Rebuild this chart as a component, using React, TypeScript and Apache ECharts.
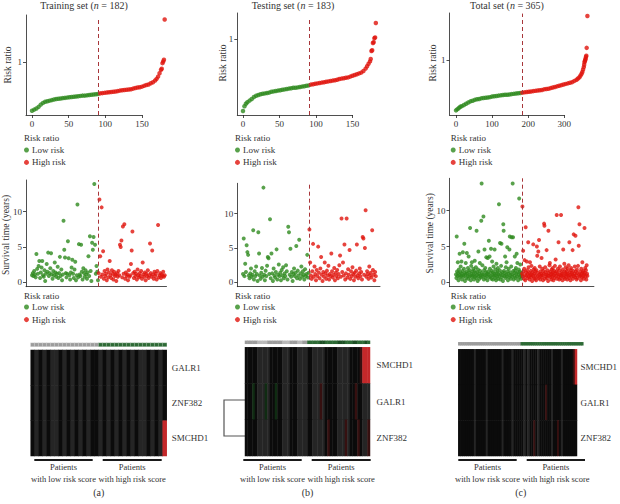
import React, { useEffect, useRef } from "react";
import * as echarts from "echarts";

type Pt = [number, number];

const FONT = "Liberation Serif";
const GREEN = "#2e8a1e";
const RED = "#e0140c";
const DASH = "#a8363a";
const TEXT = "#333333";

// ---------- data ----------
const panelTitles = ["Training set", "Testing set", "Total set"];
const panelSizes = [182, 183, 365];
const panelLetters = ["(a)", "(b)", "(c)"];
const riskGroups = ["Low risk", "High risk"];
const legendTitle = "Risk ratio";
const riskAxisTitle = "Risk ratio";
const survAxisTitle = "Survival time (years)";
const lowGroupText = ["Patients", "with low risk score"];
const highGroupText = ["Patients", "with high risk score"];

const trainXTicks = [0, 50, 100, 150];
const testXTicks = [0, 50, 100, 150];
const totalXTicks = [0, 100, 200, 300];
const riskYTicks = [1];
const survYTicks = [0, 5, 10];

// first index of the high-risk group
const trainCut = 91;
const testCut = 91;
const totalCut = 183;

// sorted risk ratio: [patient index, risk ratio]
const trainRisk: Pt[] = [[0,0.13],[3,0.15],[6,0.17],[9,0.2],[12,0.24],[15,0.27],[18,0.29],[21,0.3],[24,0.31],[27,0.32],[30,0.33],[33,0.34],[36,0.345],[39,0.35],[42,0.355],[45,0.36],[48,0.365],[51,0.37],[54,0.375],[57,0.38],[60,0.385],[63,0.39],[66,0.395],[69,0.4],[72,0.4],[75,0.405],[78,0.41],[81,0.415],[84,0.42],[87,0.425],[90,0.43],[93,0.44],[96,0.445],[99,0.45],[102,0.455],[105,0.46],[108,0.465],[111,0.47],[114,0.475],[117,0.48],[120,0.49],[123,0.495],[126,0.5],[129,0.505],[132,0.51],[135,0.515],[138,0.525],[141,0.535],[144,0.545],[147,0.55],[150,0.56],[153,0.575],[156,0.59],[159,0.6],[162,0.62],[165,0.64],[168,0.67],[170,0.7],[172,0.74],[174,0.8],[176,0.86],[177,0.88],[178,0.98],[179,1.01],[180,1.04],[181,1.76]];

const testRisk: Pt[] = [[0,0.1],[2,0.16],[4,0.19],[6,0.21],[9,0.23],[12,0.25],[15,0.275],[18,0.29],[21,0.3],[24,0.31],[27,0.315],[30,0.32],[33,0.325],[36,0.33],[39,0.34],[42,0.345],[45,0.35],[48,0.355],[51,0.36],[54,0.365],[57,0.37],[60,0.375],[63,0.38],[66,0.385],[69,0.39],[72,0.39],[75,0.395],[78,0.4],[81,0.405],[84,0.41],[87,0.415],[90,0.42],[93,0.43],[96,0.435],[99,0.44],[102,0.445],[105,0.45],[108,0.455],[111,0.46],[114,0.465],[117,0.47],[120,0.475],[123,0.48],[126,0.485],[129,0.49],[132,0.5],[135,0.505],[138,0.51],[141,0.515],[144,0.52],[147,0.53],[150,0.54],[153,0.55],[156,0.56],[159,0.57],[162,0.58],[165,0.6],[168,0.63],[170,0.66],[172,0.69],[174,0.72],[175,0.75],[176,0.85],[177,0.86],[178,0.95],[179,0.96],[180,1.01],[181,1.02],[182,1.2]];

const totalRisk: Pt[] = [[0,0.16],[4,0.18],[8,0.2],[12,0.22],[16,0.23],[22,0.25],[28,0.27],[34,0.29],[40,0.31],[46,0.32],[52,0.335],[58,0.345],[64,0.35],[70,0.36],[76,0.365],[82,0.37],[88,0.375],[94,0.38],[100,0.39],[106,0.395],[112,0.4],[118,0.405],[124,0.41],[130,0.415],[136,0.42],[142,0.42],[148,0.425],[154,0.43],[160,0.435],[166,0.44],[172,0.445],[178,0.45],[184,0.455],[190,0.46],[196,0.465],[202,0.47],[208,0.475],[214,0.48],[220,0.485],[226,0.49],[232,0.495],[238,0.5],[244,0.51],[250,0.515],[256,0.52],[262,0.53],[268,0.54],[274,0.55],[280,0.56],[286,0.57],[292,0.58],[298,0.59],[304,0.6],[310,0.61],[316,0.62],[322,0.63],[328,0.65],[334,0.67],[338,0.69],[342,0.71],[345,0.74],[348,0.77],[350,0.8],[352,0.84],[354,0.88],[355,0.92],[356,0.96],[357,0.98],[358,1.0],[359,1.02],[360,1.05],[361,1.07],[362,1.2],[364,1.73]];

// survival time (years) by patient index
const trainSurv = [
  1.0,1.3,0.9,1.6,1.1,0.7,4.0,1.9,1.2,2.3,
  3.0,0.6,1.4,2.1,3.0,1.0,0.8,1.7,0.2,1.2,
  2.6,1.5,4.2,0.9,1.3,2.0,4.1,1.1,0.5,1.6,
  1.0,2.8,1.4,0.8,1.2,2.2,0.6,1.3,3.6,0.9,
  1.8,0.3,1.1,8.7,4.6,3.5,1.3,0.7,1.2,5.8,
  3.4,1.0,0.4,1.4,2.1,3.2,1.2,0.6,1.8,2.9,
  0.3,1.0,11.0,0.7,5.4,1.1,0.9,5.3,1.5,0.4,
  2.0,1.3,0.8,1.7,1.1,0.5,1.4,3.7,0.9,6.5,
  1.6,0.2,5.6,4.6,6.4,13.9,5.3,1.2,2.3,1.5,
  0.3,
  1.3,11.7,3.7,0.8,10.6,1.1,4.4,0.5,1.6,0.9,
  1.2,0.3,1.8,0.7,1.4,3.0,1.0,0.6,1.7,1.2,
  0.4,1.5,0.9,1.1,0.2,1.3,0.8,1.6,1.0,5.3,
  5.0,5.9,0.7,7.9,1.2,8.2,0.5,1.4,0.9,1.1,
  0.3,1.7,0.8,1.0,2.6,4.5,7.2,1.3,0.6,1.5,
  0.9,1.2,0.4,1.8,1.0,0.7,1.3,0.9,1.6,0.5,
  2.8,1.1,0.8,1.4,0.3,1.2,0.9,1.7,0.6,1.0,
  5.5,1.3,0.8,4.5,1.1,0.5,1.5,0.9,1.2,0.4,
  1.6,8.1,0.7,1.0,1.3,0.6,1.1,0.9,1.5,0.8,1.0,
];

const testSurv = [
  1.2,6.4,0.9,2.7,1.5,5.4,4.4,4.0,1.0,0.6,
  1.3,2.0,0.8,1.1,7.6,0.4,1.6,0.9,2.3,1.2,
  0.2,7.3,4.2,1.0,0.5,1.4,2.1,0.8,13.8,1.1,
  0.3,1.7,0.9,2.4,3.7,3.5,1.2,9.2,0.6,4.2,
  1.3,0.2,2.0,1.0,0.7,1.5,4.8,0.4,1.1,2.6,
  0.9,1.4,0.3,1.8,1.0,2.2,0.6,1.3,0.9,2.5,
  1.6,0.4,8.1,7.3,1.1,4.9,0.8,1.5,0.2,1.2,
  2.0,0.9,1.4,5.3,0.6,1.7,1.0,6.2,0.5,1.3,
  2.3,0.8,1.6,1.1,0.4,1.9,0.9,1.2,4.0,0.7,1.4,
  7.7,2.9,1.0,0.5,1.6,5.6,0.8,2.3,1.2,0.3,
  1.8,0.9,5.2,1.4,0.6,2.0,3.7,1.1,0.2,1.5,
  0.8,2.9,1.3,0.5,1.7,1.0,2.4,0.4,1.2,0.9,
  4.2,1.6,0.7,1.1,2.1,0.3,1.4,0.9,1.8,0.6,
  1.2,2.5,3.9,0.8,9.3,1.5,2.9,1.0,5.5,0.4,
  1.3,9.3,0.7,1.9,1.1,4.7,0.5,1.6,0.9,2.2,
  1.2,0.3,1.4,0.8,1.7,5.5,1.0,0.6,1.3,2.0,
  0.9,1.5,0.4,6.6,6.4,1.1,5.0,10.5,0.8,1.6,
  1.2,0.5,2.3,1.0,1.4,0.7,7.6,1.8,1.1,0.3,1.5,0.9,
];

const totalSurv = [
  1.1,0.6,6.4,1.5,0.9,2.8,1.3,0.3,1.8,1.0,
  4.0,0.7,1.4,2.2,0.9,2.9,1.2,0.4,1.6,4.2,
  1.0,0.8,1.9,5.4,1.3,0.2,1.1,2.7,0.6,1.5,
  4.1,1.2,0.9,2.0,0.5,3.6,1.4,0.8,1.7,7.6,
  1.0,0.3,2.3,1.2,2.8,0.7,1.5,0.9,1.9,1.1,
  0.4,1.6,3.0,0.8,1.3,2.1,0.6,7.2,1.0,1.4,
  0.2,1.8,4.3,0.9,1.2,0.5,2.7,1.6,1.0,0.7,
  8.6,13.8,1.3,2.4,0.8,1.1,9.2,0.4,1.7,4.6,
  1.0,2.0,0.6,1.4,3.5,0.9,1.2,0.3,3.4,1.5,
  1.1,5.8,0.7,3.6,1.9,0.8,1.3,4.7,0.5,1.6,
  2.9,1.0,0.4,1.4,2.2,0.9,1.2,4.6,0.6,1.8,
  1.0,0.3,2.6,1.3,0.8,1.5,2.0,0.5,1.1,10.9,
  0.9,1.7,5.5,0.4,1.2,2.3,5.4,0.7,1.4,1.0,
  0.2,8.1,7.2,1.6,0.9,1.3,3.6,0.6,2.1,1.1,
  2.8,0.8,4.9,1.5,0.3,1.2,1.9,0.7,4.6,6.4,
  1.0,1.4,0.5,2.2,6.3,1.1,0.8,13.8,6.3,1.6,
  0.4,1.3,0.9,3.6,1.7,0.6,2.0,1.2,4.0,0.8,
  2.7,1.4,0.3,1.1,1.8,11.7,0.7,1.5,2.5,1.0,
  0.5,1.3,0.9,
  1.2,10.6,0.8,4.4,1.5,0.5,1.9,3.1,1.0,0.3,
  7.7,1.4,0.9,2.9,1.7,0.6,1.2,5.6,2.1,0.8,
  1.3,0.4,2.8,1.0,1.6,0.7,2.3,1.1,0.2,1.4,
  0.9,5.3,1.8,0.6,1.2,2.0,0.5,1.5,1.0,0.3,
  1.7,5.0,3.7,0.8,1.3,4.3,0.6,5.9,1.1,2.2,
  0.4,1.5,0.9,1.2,3.4,0.7,1.9,1.0,0.3,1.6,
  1.2,8.2,7.9,0.5,2.1,1.4,0.8,1.1,4.5,0.6,
  1.7,1.0,0.2,7.2,1.3,0.9,2.4,2.7,1.5,0.7,
  1.1,0.4,1.8,1.2,0.8,2.0,1.4,0.3,1.0,1.6,
  0.6,2.3,1.2,3.2,0.9,1.5,9.4,0.5,1.3,1.9,
  0.8,5.6,1.1,0.4,1.7,2.2,1.0,0.6,9.4,1.4,
  0.9,1.2,0.3,1.8,4.6,1.0,0.7,2.6,1.5,0.5,
  1.3,2.1,0.8,1.1,1.6,0.4,1.9,1.2,0.9,2.4,
  0.6,5.6,1.4,1.0,0.3,1.7,2.0,0.8,1.3,1.1,
  4.5,0.5,1.6,6.7,0.9,1.2,2.2,0.7,6.5,1.5,
  1.0,0.4,1.8,1.3,0.6,2.3,10.5,5.1,1.1,8.1,
  0.8,1.5,1.0,0.3,1.9,1.2,0.7,2.8,1.4,0.9,
  1.6,0.5,1.1,7.6,1.3,2.0,0.8,1.7,0.4,2.4,
  1.2,0.9,
];

// heatmap genes (top to bottom) and colour codes per column
// 0 black, 1 dark grey, 2 red, 3 dark red, 4 dark green
const trainGenes = ["GALR1", "ZNF382", "SMCHD1"];
const trainGALR1 = [0,1,0,1,0,1,1,0,1,0,1,0,1,0,1,0,0,1,0,1,0,1,0,1,0,1,0,1,1,0,1,0,1,0];
const trainZNF382 = [0,1,0,1,0,1,1,0,1,0,1,0,1,0,1,0,0,1,0,1,0,1,0,1,0,1,0,1,1,0,1,0,1,0];
const trainSMCHD1 = [0,1,0,1,0,1,1,0,1,0,1,0,1,0,1,0,0,1,0,1,0,1,0,1,0,1,0,1,1,0,1,0,1,2];
// annotation: 5 grey (low), 6 green (high), 7 light grey, 8 dark green
const trainAnno = [5,5,5,5,5,5,5,5,5,5,5,5,5,5,5,5,5,6,6,6,6,6,6,6,6,6,6,6,6,6,6,6,6,6];

const testGenes = ["SMCHD1", "GALR1", "ZNF382"];
const testSMCHD1 = [0,0,0,0,0,1,1,1,1,1,0,0,0,0,0,1,1,1,0,0,0,1,1,1,1,0,0,1,1,1,1,1,0,0,0,0,0,1,1,1,1,1,0,0,0,0,3,2,2,2];
const testGALR1 = [0,0,0,4,0,1,1,1,4,1,0,0,4,0,0,1,1,1,0,0,0,1,1,1,1,0,0,1,1,1,3,1,0,0,0,0,0,1,1,1,1,1,0,0,3,0,0,1,1,1];
const testZNF382 = [0,0,0,0,0,1,1,1,1,1,0,0,0,0,0,1,1,1,0,0,0,1,1,1,1,0,0,1,1,1,1,1,0,3,0,0,0,1,1,1,3,1,0,0,0,3,0,1,1,3];
const testAnno = [5,5,5,5,5,7,7,7,7,5,5,5,5,5,5,7,7,7,5,5,5,7,7,5,5,6,6,6,6,6,8,8,6,6,6,6,6,8,8,8,6,6,6,8,8,6,6,6,8,6];

const totalGenes = ["SMCHD1", "GALR1", "ZNF382"];
const totalSMCHD1 = [0,0,0,0,0,0,0,0,1,0,0,0,0,0,1,0,0,0,0,0,0,0,1,0,0,0,0,1,0,0,0,0,0,1,0,1,0,0,0,0,1,0,0,0,0,0,0,1,0,0,0,0,1,0,0,0,0,0,3,2];
const totalGALR1 = [0,0,0,0,0,0,0,0,1,0,0,0,0,0,1,0,0,0,0,0,0,0,1,0,0,0,0,1,0,0,0,0,0,1,0,1,0,0,0,0,1,0,0,0,3,0,0,1,0,0,0,0,1,0,0,0,0,0,0,0];
const totalZNF382 = [0,0,0,0,0,0,0,0,1,0,0,0,0,0,1,0,0,0,0,0,0,0,1,0,0,0,0,1,0,0,0,0,0,1,0,1,0,0,3,0,1,0,0,0,0,0,0,1,0,0,3,0,1,0,0,0,0,0,0,0];
const totalAnno = [5,5,5,5,5,5,5,5,5,5,5,5,5,5,5,5,5,5,5,5,5,5,5,5,5,5,5,5,5,5,6,6,6,6,6,6,6,6,6,6,6,6,6,6,6,6,6,6,6,6,6,6,6,6,6,6,6,6,6,6];

const codeColors = ["#0b0b0b", "#252525", "#c4282a", "#361010", "#0f2c12", "#9c9c9c", "#2d6a35", "#b9b9b9", "#1d4f25"];

// ---------- layout (pixels) ----------
const layouts = [
  { left: 26, xMin: -8.2, axisMax: 150, axisW: 116, dataMax: 183.5, dataW: 140.5, topY: 15, topH: 100, riskMin: 0.054, riskMax: 1.84,
    midY: 180, midH: 106.7, survMin: -0.62, survMax: 14.47, titleX: 84, riskTitleX: 8, survTitleX: 6, legX: 24,
    hmLeft: 30.7, hmW: 136, annoTop: 343, annoH: 3.5, hmTop: 350, hmH: 106, labMargin: 5,
    lowLine: [34.3, 92.7], highLine: [102.7, 161.7], annoBorder: true },
  { left: 237.3, xMin: -7.8, axisMax: 150, axisW: 115.2, dataMax: 187.7, dataW: 142.7, topY: 13, topH: 102, riskMin: 0.05, riskMax: 1.325,
    midY: 183.3, midH: 103.4, survMin: -0.64, survMax: 14.43, titleX: 293, riskTitleX: 222.5, survTitleX: -1, legX: 235,
    hmLeft: 245, hmW: 125, annoTop: 340.8, annoH: 3, hmTop: 347.3, hmH: 108.7, labMargin: 6.5,
    lowLine: [243.3, 301.7], highLine: [311.7, 370.7], annoBorder: false },
  { left: 449.5, xMin: -18, axisMax: 300, axisW: 114.8, dataMax: 382, dataW: 144.4, topY: 13, topH: 102, riskMin: 0.083, riskMax: 1.78,
    midY: 178.3, midH: 108.4, survMin: -0.61, survMax: 14.53, titleX: 507, riskTitleX: 432.5, survTitleX: 430, legX: 450.7,
    hmLeft: 458.3, hmW: 125, annoTop: 342.3, annoH: 3, hmTop: 349.3, hmH: 106.7, labMargin: 3.5,
    lowLine: [458.3, 516.7], highLine: [526.7, 585], annoBorder: false },
];

const panels = [
  { risk: trainRisk, surv: trainSurv, cut: trainCut, xTicks: trainXTicks, genes: trainGenes, rows: [trainGALR1, trainZNF382, trainSMCHD1], anno: trainAnno },
  { risk: testRisk, surv: testSurv, cut: testCut, xTicks: testXTicks, genes: testGenes, rows: [testSMCHD1, testGALR1, testZNF382], anno: testAnno },
  { risk: totalRisk, surv: totalSurv, cut: totalCut, xTicks: totalXTicks, genes: totalGenes, rows: [totalSMCHD1, totalGALR1, totalZNF382], anno: totalAnno },
];

function buildOption() {
  const grids: any[] = [];
  const xAxes: any[] = [];
  const yAxes: any[] = [];
  const series: any[] = [];
  const legends: any[] = [];
  const graphics: any[] = [];
  const heatIdx: number[] = [];

  const axisText = { fontFamily: FONT, fontSize: 9, color: TEXT };
  const lineSt = { color: "#222", width: 0.8 };
  const txt = (x: number, y: number, text: string, size = 9, extra: any = {}) => ({
    type: "text", x, y, silent: true,
    style: { text, fontFamily: FONT, fontSize: size, fill: TEXT, align: "center", verticalAlign: "middle", ...extra },
  });

  panels.forEach((P, k) => {
    const L = layouts[k];

    // ----- title -----
    graphics.push({
      type: "text", x: L.titleX, y: 5.5, silent: true,
      style: {
        text: `${panelTitles[k]} ({i|n} = ${panelSizes[k]})`,
        rich: { i: { fontStyle: "italic", fontFamily: FONT, fontSize: 10, fill: TEXT } },
        fontFamily: FONT, fontSize: 10, fill: TEXT, align: "center", verticalAlign: "middle",
      },
    });

    // ----- top row: x-axis only grid -----
    let g = grids.length;
    grids.push({ left: L.left, top: L.topY, width: L.axisW, height: L.topH });
    xAxes.push({
      gridIndex: g, type: "value", min: L.xMin, max: L.axisMax,
      axisLine: { show: true, onZero: false, lineStyle: lineSt },
      axisTick: { show: true, customValues: P.xTicks, length: 3, lineStyle: lineSt },
      axisLabel: { customValues: P.xTicks, margin: 4, ...axisText },
      splitLine: { show: false },
    });
    yAxes.push({ gridIndex: g, type: "value", show: false });

    // ----- top row: data grid -----
    g = grids.length;
    grids.push({ left: L.left, top: L.topY, width: L.dataW, height: L.topH });
    xAxes.push({ gridIndex: g, type: "value", min: L.xMin, max: L.dataMax, show: false, axisLine: { onZero: false } });
    yAxes.push({
      gridIndex: g, type: "value", min: L.riskMin, max: L.riskMax,
      axisLine: { show: true, onZero: false, lineStyle: lineSt },
      axisTick: { show: true, customValues: riskYTicks, length: 3, lineStyle: lineSt },
      axisLabel: { customValues: riskYTicks, margin: 4, ...axisText },
      splitLine: { show: false },
    });
    let xi = xAxes.length - 1;
    let yi = yAxes.length - 1;
    const riskMaxVal = Math.max(...P.risk.map((d) => d[1]));
    series.push({
      type: "scatter", name: riskGroups[0], xAxisIndex: xi, yAxisIndex: yi, symbolSize: 4.5,
      itemStyle: { color: GREEN }, data: P.risk.filter((d) => d[0] < P.cut),
    });
    series.push({
      type: "scatter", name: riskGroups[1], xAxisIndex: xi, yAxisIndex: yi, symbolSize: 4.5,
      itemStyle: { color: RED }, data: P.risk.filter((d) => d[0] >= P.cut),
      markLine: {
        silent: true, symbol: "none", label: { show: false },
        lineStyle: { type: [4, 3], color: DASH, width: 1 },
        data: [[{ coord: [P.cut - 0.5, L.riskMin] }, { coord: [P.cut - 0.5, riskMaxVal + 0.04] }]],
      },
    });
    const rt: any = txt(L.riskTitleX, L.topY + 50, riskAxisTitle, 9.5);
    rt.rotation = Math.PI / 2;
    graphics.push(rt);

    // legend (top)
    graphics.push(txt(L.legX, 138, legendTitle, 9, { align: "left" }));
    legends.push({
      left: L.legX, top: 145.5, orient: "vertical", padding: 0, itemWidth: 5, itemHeight: 5, itemGap: 3.4,
      icon: "circle", selectedMode: false, data: riskGroups,
      textStyle: { fontFamily: FONT, fontSize: 9, color: TEXT, lineHeight: 9, padding: [0, 0, 0, -2] },
    });

    // ----- middle row: survival time -----
    g = grids.length;
    grids.push({ left: L.left, top: L.midY, width: L.dataW, height: L.midH });
    xAxes.push({
      gridIndex: g, type: "value", min: L.xMin, max: L.dataMax,
      axisLine: { show: true, onZero: false, lineStyle: lineSt },
      axisTick: { show: false }, axisLabel: { show: false }, splitLine: { show: false },
    });
    yAxes.push({
      gridIndex: g, type: "value", min: L.survMin, max: L.survMax,
      axisLine: { show: true, onZero: false, lineStyle: lineSt },
      axisTick: { show: true, customValues: survYTicks, length: 3, lineStyle: lineSt },
      axisLabel: { customValues: survYTicks, margin: 4, ...axisText },
      splitLine: { show: false },
    });
    xi = xAxes.length - 1;
    yi = yAxes.length - 1;
    const survPts: Pt[] = P.surv.map((v, i) => [i, v] as Pt);
    series.push({
      type: "scatter", name: riskGroups[0], xAxisIndex: xi, yAxisIndex: yi, symbolSize: 4,
      itemStyle: { color: GREEN }, data: survPts.filter((d) => d[0] < P.cut),
    });
    series.push({
      type: "scatter", name: riskGroups[1], xAxisIndex: xi, yAxisIndex: yi, symbolSize: 4,
      itemStyle: { color: RED }, data: survPts.filter((d) => d[0] >= P.cut),
      markLine: {
        silent: true, symbol: "none", label: { show: false },
        lineStyle: { type: [4, 3], color: DASH, width: 1 },
        data: [[{ coord: [P.cut - 0.5, L.survMin] }, { coord: [P.cut - 0.5, L.survMax] }]],
      },
    });
    if (L.survTitleX >= 0) {
      const t: any = txt(L.survTitleX, L.midY + 55, survAxisTitle, 9.5);
      t.rotation = Math.PI / 2;
      graphics.push(t);
    }
    graphics.push(txt(L.legX, 296, legendTitle, 9, { align: "left" }));
    legends.push({
      left: L.legX, top: 302.5, orient: "vertical", padding: 0, itemWidth: 5, itemHeight: 5, itemGap: 3.6,
      icon: "circle", selectedMode: false, data: riskGroups,
      textStyle: { fontFamily: FONT, fontSize: 9, color: TEXT, lineHeight: 9, padding: [0, 0, 0, -2] },
    });

    // ----- annotation bar -----
    g = grids.length;
    grids.push({ left: L.hmLeft, top: L.annoTop, width: L.hmW, height: L.annoH });
    xAxes.push({ gridIndex: g, type: "category", data: P.anno.map((_, i) => i), show: false });
    yAxes.push({ gridIndex: g, type: "category", data: ["group"], show: false });
    heatIdx.push(series.length);
    series.push({
      type: "heatmap", xAxisIndex: xAxes.length - 1, yAxisIndex: yAxes.length - 1,
      data: P.anno.map((c, i) => [i, 0, c]),
      itemStyle: L.annoBorder ? { borderColor: "rgba(255,255,255,0.45)", borderWidth: 0.6 } : { borderWidth: 0 },
    });

    // ----- heatmap -----
    g = grids.length;
    grids.push({ left: L.hmLeft, top: L.hmTop, width: L.hmW, height: L.hmH });
    xAxes.push({ gridIndex: g, type: "category", data: P.rows[0].map((_, i) => i), show: false });
    yAxes.push({
      gridIndex: g, type: "category", data: P.genes, position: "right", inverse: true,
      axisLine: { show: false }, axisTick: { show: false },
      axisLabel: { margin: L.labMargin, fontFamily: FONT, fontSize: 9, color: TEXT },
    });
    heatIdx.push(series.length);
    const hdata: number[][] = [];
    P.rows.forEach((row, r) => row.forEach((c, i) => hdata.push([i, r, c])));
    series.push({
      type: "heatmap", xAxisIndex: xAxes.length - 1, yAxisIndex: yAxes.length - 1,
      data: hdata, itemStyle: { borderWidth: 0 },
    });

    // group underlines and labels
    const lineY = 460;
    [L.lowLine, L.highLine].forEach((seg, j) => {
      graphics.push({
        type: "line", silent: true,
        shape: { x1: seg[0], y1: lineY, x2: seg[1], y2: lineY },
        style: { stroke: "#1a1a1a", lineWidth: 2 },
      });
      const words = j === 0 ? lowGroupText : highGroupText;
      const cx = (seg[0] + seg[1]) / 2;
      graphics.push(txt(cx, 467, words[0], 8.5));
      graphics.push(txt(cx, 479.3, words[1], 8.5));
    });
    graphics.push(txt(L.hmLeft + L.hmW / 2, 492.5, panelLetters[k], 10));
  });

  // dendrogram for testing set (GALR1 / ZNF382)
  graphics.push({
    type: "polyline", silent: true,
    shape: { points: [[245, 400], [224, 400], [224, 436], [245, 436]] },
    style: { stroke: "#555", lineWidth: 1.2, fill: null },
  });

  return {
    animation: false,
    backgroundColor: "#ffffff",
    textStyle: { fontFamily: FONT },
    grid: grids,
    xAxis: xAxes,
    yAxis: yAxes,
    legend: legends,
    visualMap: [{
      type: "piecewise", show: false, dimension: 2, seriesIndex: heatIdx,
      pieces: codeColors.map((c, i) => ({ value: i, color: c })),
    }],
    series,
    graphic: graphics,
  };
}

export default function App() {
  const ref = useRef<HTMLDivElement>(null);
  useEffect(() => {
    if (!ref.current) return;
    const chart = echarts.init(ref.current, undefined, { renderer: "svg" });
    chart.setOption(buildOption() as any);
    return () => chart.dispose();
  }, []);
  return (
    <div
      ref={ref}
      style={{ position: "fixed", left: 0, top: 0, width: 620, height: 504, background: "#fff" }}
    />
  );
}
